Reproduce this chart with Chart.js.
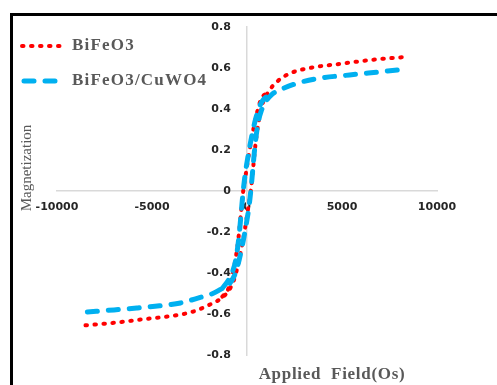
<!DOCTYPE html>
<html><head><meta charset="utf-8">
<script src="https://cdn.jsdelivr.net/npm/chart.js@4/dist/chart.umd.min.js"></script>
<style>html,body{margin:0;padding:0;background:#fff;overflow:hidden}canvas{display:block}</style>
</head><body>
<canvas id="c" width="497" height="385"></canvas>
<script>
const seriesNames = ['BiFeO3', 'BiFeO3/CuWO4'];
const xTickValues = [-10000, -5000, 0, 5000, 10000];
const yTickValues = [-0.8, -0.6, -0.4, -0.2, 0, 0.2, 0.4, 0.6, 0.8];
const xTitle = 'Applied  Field(Os)';
const yTitle = 'Magnetization';

// BiFeO3 – ascending branch (full)
const bfoH = [-8500, -7000, -5500, -4000, -2900, -2000, -1300, -1000, -750, -550, -400, -250, -100, 50, 200, 320, 450, 600, 800, 1100, 1600, 2300, 3300, 4900, 6600, 8500];
const bfoM = [-0.655, -0.643, -0.626, -0.61, -0.59, -0.556, -0.52, -0.49, -0.45, -0.39, -0.33, -0.26, -0.18, -0.09, 0.0, 0.11, 0.23, 0.33, 0.42, 0.48, 0.535, 0.575, 0.60, 0.62, 0.64, 0.655];
// BiFeO3 – descending branch (central part of loop)
const bfoRetH = [-1300, -1000, -800, -600, -450, -320, -200, -50, 100, 250, 400, 550, 750, 1100];
const bfoRetM = [-0.515, -0.48, -0.42, -0.33, -0.23, -0.11, 0.0, 0.09, 0.18, 0.26, 0.33, 0.39, 0.45, 0.48];

// BiFeO3/CuWO4 – ascending branch (full)
const cwoH = [-8400, -7000, -5800, -4600, -3500, -2500, -1800, -1300, -900, -650, -450, -300, -150, 0, 100, 200, 300, 420, 580, 750, 950, 1300, 1900, 2800, 3800, 5400, 7400, 8400];
const cwoM = [-0.59, -0.58, -0.571, -0.56, -0.546, -0.52, -0.50, -0.475, -0.45, -0.41, -0.35, -0.29, -0.22, -0.14, -0.08, 0.0, 0.10, 0.22, 0.33, 0.39, 0.43, 0.47, 0.50, 0.53, 0.55, 0.566, 0.585, 0.595];
// BiFeO3/CuWO4 – descending branch (central part of loop)
const cwoRetH = [-1300, -950, -750, -580, -420, -300, -200, -100, 0, 150, 300, 450, 650, 900, 1300];
const cwoRetM = [-0.475, -0.43, -0.39, -0.33, -0.22, -0.10, 0.0, 0.08, 0.14, 0.22, 0.29, 0.35, 0.41, 0.45, 0.47];

const zip = (xs, ys) => xs.map((x, i) => ({x, y: ys[i]}));

const redStyle = {borderColor: '#ff0000', borderWidth: 4, borderDash: [1.5, 7.5], borderCapStyle: 'round'};
const blueStyle = {borderColor: '#00b0f0', borderWidth: 5, borderDash: [10, 11], borderCapStyle: 'round'};

const common = {showLine: true, pointRadius: 0, pointHoverRadius: 0, fill: false, cubicInterpolationMode: 'monotone'};

const datasets = [
  Object.assign({label: seriesNames[0], data: zip(bfoH, bfoM), order: 2}, common, redStyle),
  Object.assign({label: seriesNames[1], data: zip(cwoH, cwoM), order: 1}, common, blueStyle),
  Object.assign({label: '_bfoRet', data: zip(bfoRetH, bfoRetM), order: 3}, common, redStyle),
  Object.assign({label: '_cwoRet', data: zip(cwoRetH, cwoRetM), order: 1}, common, blueStyle)
];

const decor = {
  id: 'decor',
  beforeDraw(chart) {
    const ctx = chart.ctx;
    ctx.save();
    ctx.fillStyle = '#fff';
    ctx.fillRect(0, 0, chart.width, chart.height);
    ctx.fillStyle = '#000';
    ctx.fillRect(10, 13, chart.width - 10, 3);
    ctx.fillRect(10, 13, 3, chart.height - 13);
    ctx.restore();
  },
  afterDraw(chart) {
    const ctx = chart.ctx;
    ctx.save();
    const rows = [46, 81];
    [0, 1].forEach(i => {
      const ds = chart.data.datasets[i];
      const y = rows[i];
      ctx.save();
      ctx.strokeStyle = ds.borderColor;
      ctx.lineWidth = ds.borderWidth;
      ctx.lineCap = ds.borderCapStyle;
      ctx.setLineDash(ds.borderDash);
      ctx.beginPath();
      ctx.moveTo(i === 0 ? 22 : 24, y);
      ctx.lineTo(63, y);
      ctx.stroke();
      ctx.restore();
      ctx.fillStyle = '#595959';
      ctx.font = 'bold 17px "Liberation Serif", serif';
      ctx.textBaseline = 'middle';
      ctx.textAlign = 'left';
      try { ctx.letterSpacing = '1.2px'; } catch (e) {}
      ctx.fillText(ds.label, 72, y);
    });
    try { ctx.letterSpacing = '0.7px'; } catch (e) {}
    ctx.font = 'bold 17px "Liberation Serif", serif';
    ctx.fillStyle = '#595959';
    ctx.textAlign = 'center';
    ctx.textBaseline = 'middle';
    ctx.fillText(xTitle, 332, 375);
    try { ctx.letterSpacing = '0px'; } catch (e) {}
    ctx.translate(27, 168);
    ctx.rotate(-Math.PI / 2);
    ctx.font = '15px "Liberation Serif", serif';
    ctx.fillText(yTitle, 0, 0);
    ctx.restore();
  }
};

const tickFont = {family: 'DejaVu Sans', weight: 'bold', size: 11};

new Chart(document.getElementById('c'), {
  type: 'scatter',
  data: {datasets},
  plugins: [decor],
  options: {
    responsive: false,
    animation: false,
    layout: {padding: {left: 57, right: 60, top: 27, bottom: 30}},
    plugins: {legend: {display: false}, tooltip: {enabled: false}},
    scales: {
      x: {
        type: 'linear', min: -10000, max: 10000,
        position: {y: 0},
        afterBuildTicks: s => { s.ticks = xTickValues.map(v => ({value: v})); },
        grid: {display: false, drawTicks: false},
        border: {display: true, color: '#d9d9d9', width: 1.5},
        ticks: {autoSkip: false, maxRotation: 0, padding: 10, color: '#262626', font: tickFont,
          callback: v => String(v)}
      },
      y: {
        type: 'linear', min: -0.8, max: 0.8,
        position: {x: 0},
        grid: {display: false, drawTicks: false},
        border: {display: true, color: '#d9d9d9', width: 1.5},
        ticks: {display: false}
      },
      yLabels: {
        type: 'linear', min: -0.8, max: 0.8,
        position: {x: -850},
        afterBuildTicks: s => { s.ticks = yTickValues.map(v => ({value: v})); },
        grid: {display: false, drawTicks: false},
        border: {display: false},
        ticks: {autoSkip: false, padding: 0, color: '#262626', font: tickFont,
          callback: v => String(Math.round(v * 10) / 10)}
      }
    }
  }
});
</script>
</body></html>
